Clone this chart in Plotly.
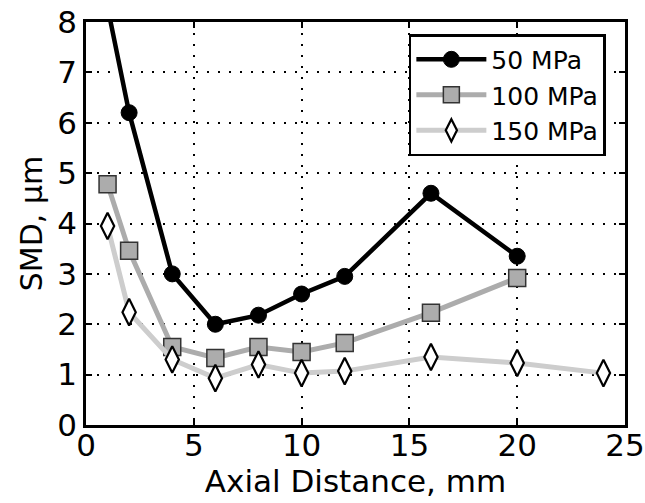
import plotly.graph_objects as go

x50 = [1, 2, 4, 6, 8, 10, 12, 16, 20]
y50 = [8.3, 6.2, 3.0, 2.0, 2.18, 2.6, 2.95, 4.6, 3.35]
x100 = [1, 2, 4, 6, 8, 10, 12, 16, 20]
y100 = [4.78, 3.46, 1.55, 1.33, 1.55, 1.45, 1.63, 2.23, 2.92]
x150 = [1, 2, 4, 6, 8, 10, 12, 16, 20, 24]
y150 = [3.95, 2.24, 1.3, 0.93, 1.2, 1.03, 1.07, 1.35, 1.23, 1.03]
names = ["50 MPa", "100 MPa", "150 MPa"]

FONT = "DejaVu Sans"
fig = go.Figure()
fig.add_trace(go.Scatter(x=x50, y=y50, name=names[0], mode="lines+markers",
                         line=dict(color="black", width=4.5),
                         marker=dict(symbol="circle", size=16, color="black",
                                     line=dict(color="black", width=1))))
fig.add_trace(go.Scatter(x=x100, y=y100, name=names[1], mode="lines+markers",
                         line=dict(color="#acacac", width=5),
                         marker=dict(symbol="square", size=17, color="#acacac",
                                     line=dict(color="#333333", width=1.5))))
fig.add_trace(go.Scatter(x=x150, y=y150, name=names[2], mode="lines+markers",
                         line=dict(color="#cdcdcd", width=5),
                         marker=dict(symbol="diamond-tall", size=19, color="white",
                                     line=dict(color="black", width=2.2))))

axis_common = dict(showline=True, linecolor="black", linewidth=2.5, mirror="ticks",
                   ticks="inside", ticklen=6, tickwidth=1.5, tickcolor="black",
                   showgrid=True, gridcolor="black", griddash="2px,9px", gridwidth=2,
                   zeroline=False, automargin=False,
                   tickfont=dict(family=FONT, size=31, color="black"))
fig.update_xaxes(range=[0, 25], dtick=5, tick0=0, ticklabelstandoff=-9,
                 title=dict(text="Axial Distance, mm", font=dict(family=FONT, size=31, color="black"),
                            standoff=0),
                 **axis_common)
fig.update_yaxes(range=[0, 8], dtick=1, tick0=0,
                 title=dict(text="SMD, μm", font=dict(family=FONT, size=30, color="black"),
                            standoff=6),
                 **axis_common)

fig.update_layout(
    width=645, height=503,
    margin=dict(l=86, r=20, t=22, b=78),
    plot_bgcolor="white", paper_bgcolor="white",
    font=dict(family=FONT, color="black"),
    legend=dict(x=0.599, y=0.97, xanchor="left", yanchor="top",
                bordercolor="black", borderwidth=2.5, bgcolor="white",
                font=dict(family=FONT, size=25, color="black"),
                itemwidth=70),
    showlegend=True,
)
fig.write_html("out.html")
